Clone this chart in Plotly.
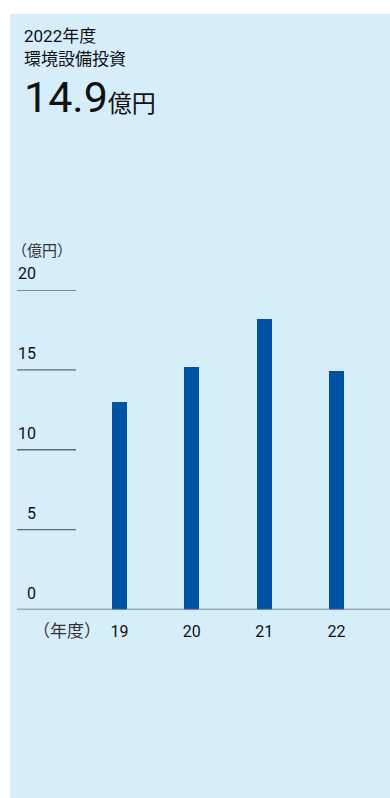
import plotly.graph_objects as go

W, H = 390, 798

years = ["19", "20", "21", "22"]
values = [13.0, 15.2, 18.2, 14.9]
y_ticks = [0, 5, 10, 15, 20]
title_year = "2022年度"
title_name = "環境設備投資"
headline_value = "14.9"
headline_unit = "億円"
y_unit = "（億円）"
x_unit = "（年度）"

FONT = "Roboto, 'Noto Sans CJK JP'"
BG = "#d6eefa"
BAR = "#0052a5"
TXT = "#111111"
GRID = "#5c6b75"

def px(x):
    return x / W

def py(y):
    return 1 - y / H

fig = go.Figure()
fig.add_trace(go.Bar(
    x=years, y=values, marker=dict(color=BAR, line=dict(width=0)),
    width=0.207, hoverinfo="skip", showlegend=False,
))

# axis geometry
y0_px, y20_px = 609.5, 290
xl, xr = 17, 390
c0, step = 119.5, 72.33

shapes = [
    dict(type="rect", xref="paper", yref="paper", x0=px(10), x1=1, y0=0, y1=py(14),
         fillcolor=BG, line=dict(width=0), layer="below"),
]
for t in y_ticks[1:]:
    shapes.append(dict(type="line", xref="paper", yref="y", x0=px(17), x1=px(76),
                       y0=t, y1=t, line=dict(color=GRID, width=1.3), layer="above"))
shapes.append(dict(type="line", xref="paper", yref="y", x0=px(17), x1=1,
                   y0=0, y1=0, line=dict(color=GRID, width=1.5), layer="above"))

annotations = []
for t in y_ticks:
    annotations.append(dict(xref="paper", yref="y", x=px(38), y=t, text=str(t),
                             showarrow=False, xanchor="right", yanchor="bottom",
                             yshift=5, font=dict(family=FONT, size=16, color=TXT)))
annotations += [
    dict(xref="paper", yref="paper", x=px(22), y=py(35.5), text=title_year, showarrow=False,
         xanchor="left", yanchor="middle", font=dict(family=FONT, size=17, color=TXT)),
    dict(xref="paper", yref="paper", x=px(22), y=py(58.5), text=title_name, showarrow=False,
         xanchor="left", yanchor="middle", font=dict(family=FONT, size=17, color=TXT)),
    dict(xref="paper", yref="paper", x=px(22), y=py(97),
         text=f"<span style='font-size:43px'>{headline_value}</span><span style='font-size:24px'>{headline_unit}</span>",
         showarrow=False, xanchor="left", yanchor="middle",
         font=dict(family=FONT, size=43, color=TXT)),
    dict(xref="paper", yref="paper", x=px(10), y=py(251), text=y_unit, showarrow=False,
         xanchor="left", yanchor="middle", font=dict(family=FONT, size=15, color="#333")),
    dict(xref="paper", yref="paper", x=px(67), y=py(631), text=x_unit, showarrow=False,
         xanchor="center", yanchor="middle", font=dict(family=FONT, size=17, color="#333")),
]

fig.update_layout(
    width=W, height=H,
    margin=dict(l=0, r=0, t=0, b=0),
    paper_bgcolor="white", plot_bgcolor="rgba(0,0,0,0)",
    shapes=shapes, annotations=annotations,
    xaxis=dict(type="category", domain=[px(xl), 1],
               range=[(xl - c0) / step, (xr - c0) / step],
               showgrid=False, zeroline=False, showline=False, ticks="",
               tickfont=dict(family=FONT, size=16, color=TXT), ticklabelstandoff=10),
    yaxis=dict(domain=[py(y0_px), py(y20_px)], range=[0, 20], showgrid=False,
               zeroline=False, showticklabels=False, showline=False),
    bargap=0,
)

fig.write_html("out.html", config={"displayModeBar": False},
               post_script="document.body.style.margin='0';document.body.style.overflow='hidden';")
